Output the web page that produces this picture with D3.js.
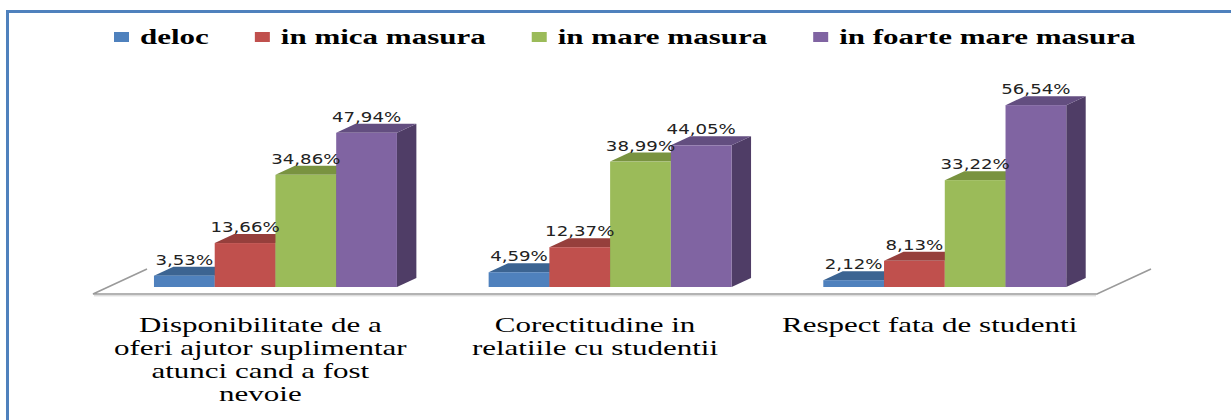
<!DOCTYPE html>
<html>
<head>
<meta charset="utf-8">
<script src="https://cdn.jsdelivr.net/npm/d3@7"></script>
<style>
  body { margin: 0; background: #fff; }
</style>
</head>
<body>
<script>
const categories = ['Disponibilitate de a oferi ajutor suplimentar atunci cand a fost nevoie',
  'Corectitudine in relatiile cu studentii', 'Respect fata de studenti'];
const categoryLines = [
  ['Disponibilitate de a', 'oferi ajutor suplimentar', 'atunci cand a fost', 'nevoie'],
  ['Corectitudine in', 'relatiile cu studentii'],
  ['Respect fata de studenti']
];
const seriesNames = ['deloc', 'in mica masura', 'in mare masura', 'in foarte mare masura'];
const deloc = [3.53, 4.59, 2.12];
const inMica = [13.66, 12.37, 8.13];
const inMare = [34.86, 38.99, 33.22];
const inFoarteMare = [47.94, 44.05, 56.54];
const seriesValues = [deloc, inMica, inMare, inFoarteMare];

const frontColors = ['#4f81bd', '#c0504d', '#9bbb59', '#8064a2'];
const topColors = ['#3c6492', '#963f3c', '#799340', '#634e80'];
const sideColors = ['#2f4e72', '#73302e', '#5d7131', '#4f3d66'];

const width = 1231;
const height = 420;
const sx = 1.55; // text looks stretched horizontally
const serif = "'Liberation Serif', 'DejaVu Serif', 'Noto Serif', Tinos, 'Times New Roman', serif";

const floor = {x0: 93, x1: 1097, y: 294};
const depth = {dx: 54, dy: -25};
const barFront = 0.28, barBack = 0.64;

const svg = d3.select('body').append('svg')
  .attr('width', width)
  .attr('height', height);

svg.append('rect')
  .attr('x', 7.5).attr('y', 11.5)
  .attr('width', 1300).attr('height', 500)
  .attr('fill', 'none')
  .attr('stroke', '#4f81bd')
  .attr('stroke-width', 3);

const x0 = d3.scaleBand()
  .domain(categories)
  .range([floor.x0, floor.x1])
  .paddingInner(0.274)
  .paddingOuter(0.137);

const x1 = d3.scaleBand()
  .domain(seriesNames)
  .range([0, x0.bandwidth()]);

const yScale = d3.scaleLinear()
  .domain([0, 60])
  .range([0, 193]);

// floor
const fx = depth.dx, fy = depth.dy;
svg.append('path')
  .attr('d', `M${floor.x0 + fx},${floor.y + fy} L${floor.x0},${floor.y} L${floor.x1},${floor.y} L${floor.x1 + fx},${floor.y + fy}`)
  .attr('fill', 'none')
  .attr('stroke', '#9a9a9a')
  .attr('stroke-width', 1.6);
svg.append('line')
  .attr('x1', floor.x0 + 1).attr('x2', floor.x1 - 1)
  .attr('y1', floor.y + 1.8).attr('y2', floor.y + 1.8)
  .attr('stroke', '#d0d0d0').attr('stroke-width', 1);

// bars
const bars = [];
categories.forEach((c, ci) => {
  seriesNames.forEach((s, si) => {
    bars.push({cat: c, ci: ci, series: s, si: si, value: seriesValues[si][ci]});
  });
});

const ox = depth.dx * barFront, oy = depth.dy * barFront;
const bdx = depth.dx * (barBack - barFront), bdy = depth.dy * (barBack - barFront);
const baseY = floor.y + oy;

const barG = svg.append('g');
bars.forEach(d => {
  const left = x0(d.cat) + x1(d.series) + ox;
  const w = x1.bandwidth();
  const h = yScale(d.value);
  const top = baseY - h;
  const g = barG.append('g');
  // side
  g.append('path')
    .attr('d', `M${left + w},${baseY} L${left + w + bdx},${baseY + bdy} L${left + w + bdx},${top + bdy} L${left + w},${top} Z`)
    .attr('fill', sideColors[d.si]);
  // top
  g.append('path')
    .attr('d', `M${left},${top} L${left + bdx},${top + bdy} L${left + w + bdx},${top + bdy} L${left + w},${top} Z`)
    .attr('fill', topColors[d.si]);
  // front
  g.append('rect')
    .attr('x', left).attr('y', top)
    .attr('width', w).attr('height', h)
    .attr('fill', frontColors[d.si]);
});

// value labels
svg.selectAll('.val-label')
  .data(bars)
  .enter()
  .append('text')
  .attr('class', 'val-label')
  .attr('text-anchor', 'middle')
  .style('font-family', "'DejaVu Sans', Verdana, sans-serif")
  .style('font-size', '14px')
  .style('fill', '#222')
  .attr('transform', d => {
    const cx = x0(d.cat) + x1(d.series) + ox + x1.bandwidth() / 2;
    const cy = baseY - yScale(d.value) + bdy - 2;
    return `translate(${cx},${cy}) scale(1.3,1)`;
  })
  .text(d => d.value.toFixed(2).replace('.', ',') + '%');

// category labels
categories.forEach((c, ci) => {
  const cx = x0(c) - x0.step() * x0.paddingInner() / 2 + x0.step() / 2;
  const t = svg.append('text')
    .attr('text-anchor', 'middle')
    .style('font-family', serif)
    .style('font-size', '20px')
    .attr('transform', `translate(${cx},332) scale(${sx},1)`);
  categoryLines[ci].forEach((line, li) => {
    t.append('tspan')
      .attr('x', 0)
      .attr('y', li * 23)
      .text(line);
  });
});

// legend
const legend = svg.append('g').attr('transform', 'translate(114,0)');
let lx = 0;
seriesNames.forEach((s, si) => {
  legend.append('rect')
    .attr('x', lx).attr('y', 32)
    .attr('width', 15).attr('height', 10)
    .attr('fill', frontColors[si]);
  const t = legend.append('text')
    .style('font-family', serif)
    .style('font-weight', 'bold')
    .style('font-size', '20px')
    .attr('transform', `translate(${lx + 26},44) scale(${sx},1)`)
    .text(s);
  lx += 26 + t.node().getComputedTextLength() * sx + 46;
});
</script>
</body>
</html>
